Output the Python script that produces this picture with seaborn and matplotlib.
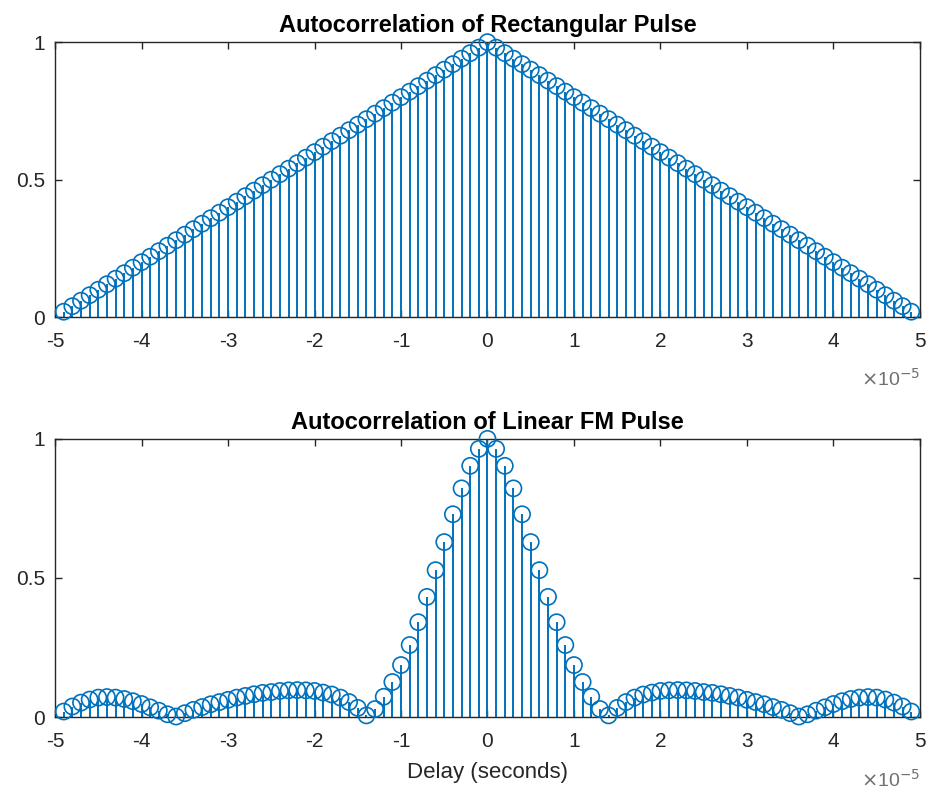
import numpy as np
import pandas as pd
import matplotlib
matplotlib.use("Agg")
import matplotlib.pyplot as plt
import seaborn as sns
from matplotlib.ticker import FuncFormatter, FixedLocator

# ---- data ----
delay_us = list(range(-49, 50))  # lag index, microseconds
rect_vals = [0.02, 0.04, 0.06, 0.08, 0.10, 0.12, 0.14, 0.16, 0.18, 0.20,
             0.22, 0.24, 0.26, 0.28, 0.30, 0.32, 0.34, 0.36, 0.38, 0.40,
             0.42, 0.44, 0.46, 0.48, 0.50, 0.52, 0.54, 0.56, 0.58, 0.60,
             0.62, 0.64, 0.66, 0.68, 0.70, 0.72, 0.74, 0.76, 0.78, 0.80,
             0.82, 0.84, 0.86, 0.88, 0.90, 0.92, 0.94, 0.96, 0.98, 1.00,
             0.98, 0.96, 0.94, 0.92, 0.90, 0.88, 0.86, 0.84, 0.82, 0.80,
             0.78, 0.76, 0.74, 0.72, 0.70, 0.68, 0.66, 0.64, 0.62, 0.60,
             0.58, 0.56, 0.54, 0.52, 0.50, 0.48, 0.46, 0.44, 0.42, 0.40,
             0.38, 0.36, 0.34, 0.32, 0.30, 0.28, 0.26, 0.24, 0.22, 0.20,
             0.18, 0.16, 0.14, 0.12, 0.10, 0.08, 0.06, 0.04, 0.02]
lfm_vals = [0.020, 0.038, 0.052, 0.063, 0.070, 0.072, 0.070, 0.065, 0.057, 0.047,
            0.035, 0.023, 0.010, 0.002, 0.014, 0.026, 0.036, 0.046, 0.054, 0.062,
            0.070, 0.076, 0.082, 0.087, 0.090, 0.094, 0.096, 0.097, 0.096, 0.094,
            0.088, 0.081, 0.070, 0.054, 0.033, 0.006, 0.029, 0.073, 0.126, 0.187,
            0.259, 0.341, 0.432, 0.528, 0.629, 0.729, 0.822, 0.903, 0.964, 1.000,
            0.964, 0.903, 0.822, 0.729, 0.629, 0.528, 0.432, 0.341, 0.259, 0.187,
            0.126, 0.073, 0.029, 0.006, 0.033, 0.054, 0.070, 0.081, 0.088, 0.094,
            0.096, 0.097, 0.096, 0.094, 0.090, 0.087, 0.082, 0.076, 0.070, 0.062,
            0.054, 0.046, 0.036, 0.026, 0.014, 0.002, 0.010, 0.023, 0.035, 0.047,
            0.057, 0.065, 0.070, 0.072, 0.070, 0.063, 0.052, 0.038, 0.020]
titles = ["Autocorrelation of Rectangular Pulse", "Autocorrelation of Linear FM Pulse"]
x_ticks = [-5, -4, -3, -2, -1, 0, 1, 2, 3, 4, 5]
y_ticks = [0, 0.5, 1]
y_tick_labels = ["0", "0.5", "1"]
xlabel = "Delay (seconds)"

sns.set_style("white")
plt.rcParams['font.family'] = ['Liberation Sans', 'DejaVu Sans']

blue = "#0072BD"
axc = "#262626"

fig = plt.figure(figsize=(9.33, 7.95), dpi=100)
ax1 = fig.add_axes([0.059, 0.601, 0.927, 0.346])
ax2 = fig.add_axes([0.059, 0.098, 0.927, 0.350])

t = np.array(delay_us) * 1e-6


def fmt(x, p):
    v = round(x / 1e-5)
    return f"{v:d}"


for ax, vals, title in [(ax1, rect_vals, titles[0]), (ax2, lfm_vals, titles[1])]:
    df = pd.DataFrame({"t": t, "v": vals})
    ax.vlines(df["t"], 0, df["v"], color=blue, linewidth=1.4, clip_on=False, zorder=2)
    sns.scatterplot(data=df, x="t", y="v", ax=ax, marker="o", s=135,
                    facecolors="none", edgecolor=blue, linewidth=1.2,
                    clip_on=False, zorder=3, legend=False)
    ax.set_xlim(-5e-5, 5e-5)
    ax.set_ylim(0, 1)
    ax.xaxis.set_major_locator(FixedLocator([v * 1e-5 for v in x_ticks]))
    ax.xaxis.set_major_formatter(FuncFormatter(fmt))
    ax.set_yticks(y_ticks)
    ax.set_yticklabels(y_tick_labels)
    ax.set_xlabel("")
    ax.set_ylabel("")
    ax.set_title(title, fontsize=17, fontweight="bold", color="black", pad=7)
    for s in ax.spines.values():
        s.set_visible(True)
        s.set_color(axc)
        s.set_linewidth(1.0)
    ax.tick_params(direction="in", length=5, width=1.0, colors=axc, labelsize=15,
                   top=True, right=True, bottom=True, left=True)
    ax.tick_params(axis="x", pad=11)
    ax.tick_params(axis="y", pad=7)
    ax.text(1.0, -0.185, r"$\times$10$^{-5}$", transform=ax.transAxes, ha="right",
            va="top", fontsize=14, color="#707070")

ax2.set_xlabel(xlabel, fontsize=16, color=axc, labelpad=8)

fig.savefig("out.png", dpi=100)
